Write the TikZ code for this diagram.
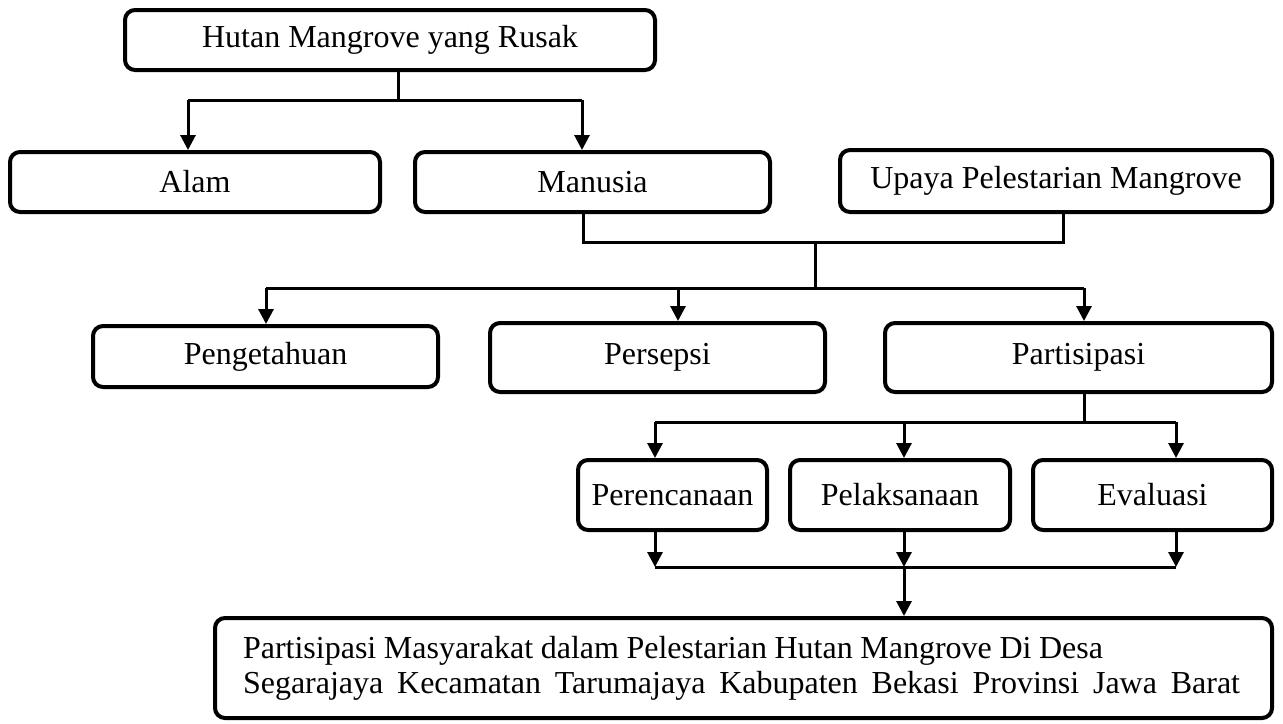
\documentclass[tikz,border=0pt]{standalone}
\usepackage{fontspec}
\setmainfont{Liberation Serif}
\usetikzlibrary{arrows.meta}
\begin{document}
\begin{tikzpicture}[x=0.5pt,y=-0.5pt,
  box/.style={draw, line width=2pt, rounded corners=5pt, inner sep=0pt,
    font=\fontsize{16}{18}\selectfont, align=center},
  conn/.style={line width=1.5pt},
  arr/.style={line width=1.5pt, -{Triangle[width=7.5pt,length=7.5pt]}}]
\useasboundingbox (0,0) rectangle (1283,723);
\node[box, minimum width=265pt, minimum height=30pt] (top) at (390,40) {Hutan Mangrove yang Rusak};
\node[box, minimum width=185pt, minimum height=30pt] (alam) at (195,182) {Alam};
\node[box, minimum width=177.5pt, minimum height=30pt] (manusia) at (592.5,182) {Manusia};
\node[box, minimum width=216pt, minimum height=31pt] (upaya) at (1056,181) {Upaya Pelestarian Mangrove};
\node[box, minimum width=172.5pt, minimum height=30.5pt] (peng) at (265.5,356.5) {Pengetahuan};
\node[box, minimum width=167.5pt, minimum height=34.5pt] (pers) at (657.5,357.5) {Persepsi};
\node[box, minimum width=193.5pt, minimum height=34.5pt] (part) at (1078.5,357.5) {Partisipasi};
\node[box, minimum width=94.5pt, minimum height=35pt] (peren) at (672.5,495) {Perencanaan};
\node[box, minimum width=110pt, minimum height=35pt] (pelak) at (900,495) {Pelaksanaan};
\node[box, minimum width=119.5pt, minimum height=35pt] (eval) at (1152.5,495) {Evaluasi};
\node[box, minimum width=528.5pt, minimum height=50pt, text width=500.5pt, align=left,
  font=\fontsize{16}{17.5}\selectfont] (hasil) at (743.5,668)
  {\spaceskip=4pt plus 4pt minus 3pt\relax
   \makebox[430pt][s]{Partisipasi Masyarakat dalam Pelestarian Hutan Mangrove Di Desa}\\
   \makebox[498.5pt][s]{Segarajaya Kecamatan Tarumajaya Kabupaten Bekasi Provinsi Jawa Barat}};
% level 1
\coordinate (j1) at (398,100);
\coordinate (a1) at (188,100);
\coordinate (a2) at (582,100);
\draw[conn] (j1 |- top.south) -- (j1);
\draw[conn] (a1) -- (a2);
\draw[arr] (a1) -- (a1 |- alam.north);
\draw[arr] (a2) -- (a2 |- manusia.north);
% level 2
\coordinate (m1) at (583,242);
\coordinate (u1) at (1063,242);
\coordinate (c2) at (815,242);
\coordinate (c3) at (815,288);
\coordinate (b1) at (266,288);
\coordinate (b2) at (678,288);
\coordinate (b3) at (1084,288);
\draw[conn] (m1 |- manusia.south) -- (m1) -- (u1) -- (u1 |- upaya.south);
\draw[conn] (c2) -- (c3);
\draw[conn] (b1) -- (b3);
\draw[arr] (b1) -- (b1 |- peng.north);
\draw[arr] (b2) -- (b2 |- pers.north);
\draw[arr] (b3) -- (b3 |- part.north);
% level 3
\coordinate (p0) at (1084,422);
\coordinate (d1) at (655,422);
\coordinate (d2) at (904,422);
\coordinate (d3) at (1176,422);
\draw[conn] (p0 |- part.south) -- (p0);
\draw[conn] (d1) -- (d3);
\draw[arr] (d1) -- (d1 |- peren.north);
\draw[arr] (d2) -- (d2 |- pelak.north);
\draw[arr] (d3) -- (d3 |- eval.north);
% level 4
\coordinate (e1) at (655,567);
\coordinate (e2) at (904,567);
\coordinate (e3) at (1176,567);
\draw[arr] (e1 |- peren.south) -- (e1);
\draw[arr] (e2 |- pelak.south) -- (e2);
\draw[arr] (e3 |- eval.south) -- (e3);
\draw[conn] (e1) -- (e3);
\draw[arr] (e2) -- (e2 |- hasil.north);
\end{tikzpicture}
\end{document}
